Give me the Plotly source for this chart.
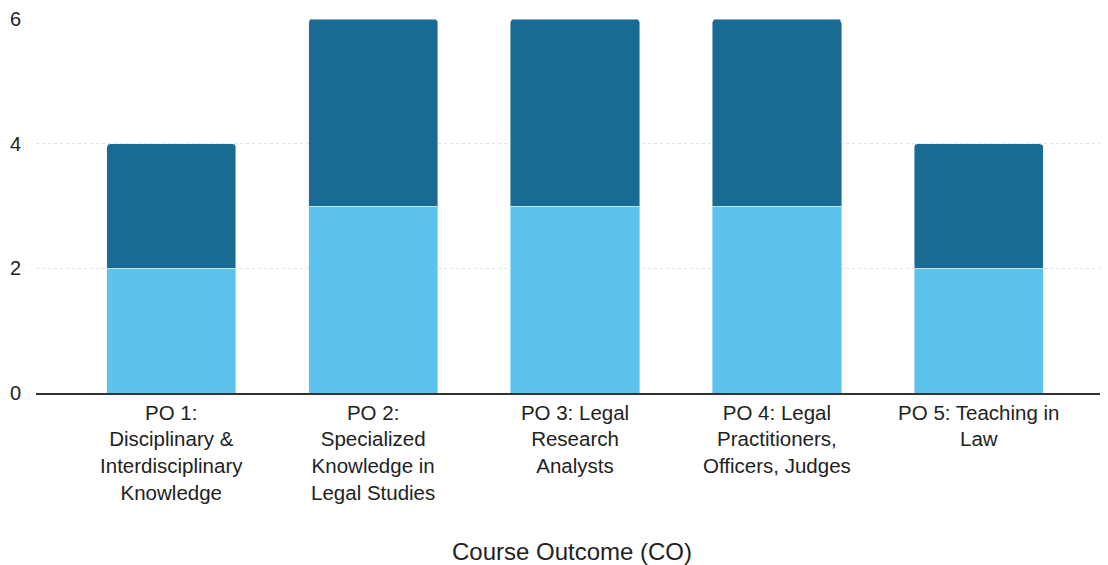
import plotly.graph_objects as go

categories = [
    "PO 1:<br>Disciplinary &<br>Interdisciplinary<br>Knowledge",
    "PO 2:<br>Specialized<br>Knowledge in<br>Legal Studies",
    "PO 3: Legal<br>Research<br>Analysts",
    "PO 4: Legal<br>Practitioners,<br>Officers, Judges",
    "PO 5: Teaching in<br>Law",
]
lower_values = [2, 3, 3, 3, 2]
upper_values = [2, 3, 3, 3, 2]
y_ticks = [0, 2, 4, 6]

fig = go.Figure()
fig.add_trace(go.Bar(x=categories, y=lower_values, marker_color="#5BC3EC", name="Lower"))
fig.add_trace(go.Bar(x=categories, y=upper_values, marker_color="#1A6B94", name="Upper"))

fig.update_layout(
    barmode="stack",
    bargap=0.36,
    barcornerradius=4,
    width=1100, height=557,
    margin=dict(l=28, r=0, t=11, b=172),
    plot_bgcolor="white", paper_bgcolor="white",
    showlegend=False,
    font=dict(family="Liberation Sans, Arial, sans-serif", size=20, color="#222"),
)
fig.update_xaxes(
    range=[-0.67, 4.64],
    automargin=False,
    showline=True, linecolor="#333", linewidth=2,
    ticks="", tickfont=dict(size=20.5, color="#222"),
    title=dict(text="Course Outcome (CO)", font=dict(size=24, color="#222"), standoff=42),
)
fig.update_yaxes(
    range=[0, 6], tickvals=y_ticks,
    automargin=False,
    showgrid=True, gridcolor="#DDE3E8", gridwidth=1, griddash="dot",
    zeroline=False, ticks="", tickfont=dict(size=20, color="#222"),
    ticklabelstandoff=14,
)
fig.write_html("out.html")
